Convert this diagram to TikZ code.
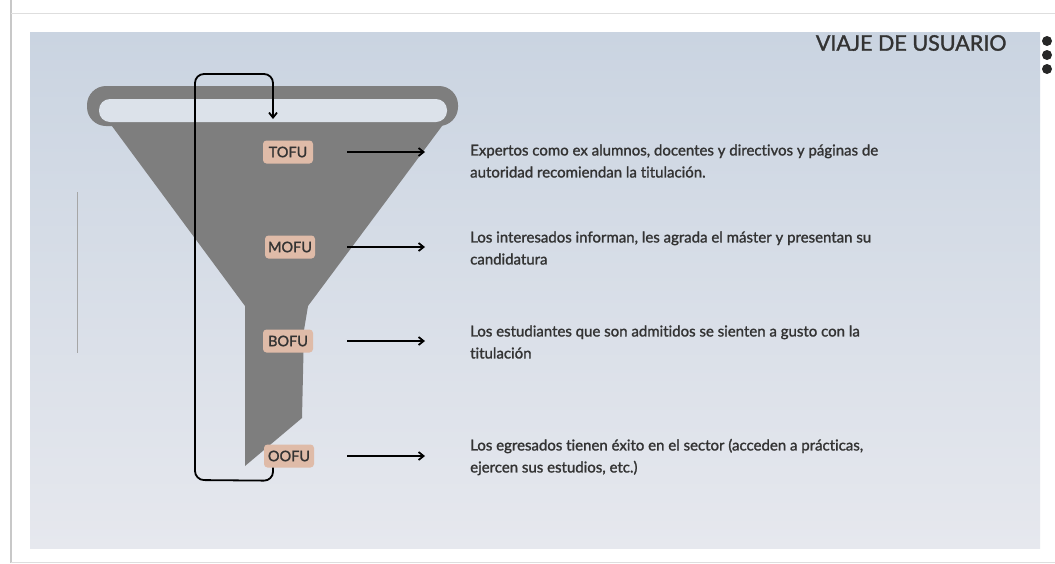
\documentclass[tikz,border=0pt]{standalone}
\usepackage{fontspec}
\setmainfont{Lato}[RawFeature=-liga]
\newfontfamily\medfont{Lato}[RawFeature=-liga, BoldFont=Lato, BoldFeatures={FakeBold=1.4, RawFeature=-liga}]
\usetikzlibrary{arrows.meta}
\definecolor{slidetop}{HTML}{CAD4E1}
\definecolor{slidebot}{HTML}{E6E8EE}
\definecolor{funnelgrey}{HTML}{7E7E7E}
\definecolor{rimin}{HTML}{DCE2EA}
\definecolor{peach}{HTML}{DFBBA8}
\definecolor{inkgrey}{HTML}{333333}
\definecolor{edgegrey}{HTML}{C8C8C8}
\begin{document}
\begin{tikzpicture}[x=1pt,y=-1pt,
        stage/.style={
            fill=peach,
            rounded corners=3.5pt,
            text=inkgrey,
            minimum width=50pt,
            minimum height=23pt,
            inner sep=2pt,
            font=\medfont\bfseries\fontsize{14.5}{14.5}\selectfont
        },
        note/.style={
            anchor=west,
            align=left,
            inner sep=0pt,
            text=inkgrey,
            font=\medfont\bfseries\fontsize{15}{22}\selectfont
        },
        flow/.style={-{Straight Barb[length=5pt,width=8pt]}, line width=1.8pt}
    ]
        \useasboundingbox (0,0) rectangle (1055,563);
        \fill[white] (0,0) rectangle (1055,563);
        % slide frame
        \draw[edgegrey, line width=1.5pt] (11,0) -- (11,563);
        \draw[edgegrey!60, line width=1pt] (11,13) -- (1055,13);
        \draw[edgegrey!60, line width=1pt] (11,562) -- (1055,562);
        \shade[top color=slidetop, bottom color=slidebot] (30,32) rectangle (1040,548);
        \draw[black!35, line width=1pt] (77,192) -- (77,353);

        % funnel
        \fill[funnelgrey, rounded corners=19pt] (87,86) rectangle (458,126);
        \fill[funnelgrey] (106,118) -- (448,118) -- (308,306) -- (304,330)
            -- (302,418) -- (245,466) -- (245,306) -- cycle;
        \fill[rimin, rounded corners=11pt] (99,99) rectangle (447,122);

        % title
        \node[anchor=east, text=inkgrey, font=\medfont\bfseries\fontsize{21.5}{21.5}\selectfont] (title) at (1010,43) {VIAJE DE USUARIO};
        \foreach \dy in {41,55,69}
            \fill[black!85] (1047,\dy) circle (5pt);

        % stages
        \node[stage] (tofu) at (288,152) {TOFU};
        \node[stage] (mofu) at (290,247) {MOFU};
        \node[stage] (bofu) at (288,341) {BOFU};
        \node[stage] (oofu) at (289,456) {OOFU};

        \node[note] (tofutxt) at (470,161)
            {Expertos como ex alumnos, docentes y directivos y páginas de\\autoridad recomiendan la titulación.};
        \node[note] (mofutxt) at (470,248)
            {Los interesados informan, les agrada el máster y presentan su\\candidatura};
        \node[note] (bofutxt) at (470,342)
            {Los estudiantes que son admitidos se sienten a gusto con la\\titulación};
        \node[note] (oofutxt) at (470,457)
            {Los egresados tienen éxito en el sector (acceden a prácticas,\\ejercen sus estudios, etc.)};

        \draw[flow] ([xshift=34pt]tofu.east) -- ([xshift=-45pt]tofu.east -| tofutxt.west);
        \draw[flow] ([xshift=32pt]mofu.east) -- ([xshift=-45pt]mofu.east -| mofutxt.west);
        \draw[flow] ([xshift=34pt]bofu.east) -- ([xshift=-45pt]bofu.east -| bofutxt.west);
        \draw[flow] ([xshift=33pt]oofu.east) -- ([xshift=-45pt]oofu.east -| oofutxt.west);

        % loop back to the top
        \coordinate (rimtop) at (273,119);
        \draw[flow, rounded corners=9pt] ([xshift=-16pt]oofu.south) -- ++(0,13) -- (195,480)
            -- (195,74) -- (273,74) -- (rimtop);
    \end{tikzpicture}
\end{document}
